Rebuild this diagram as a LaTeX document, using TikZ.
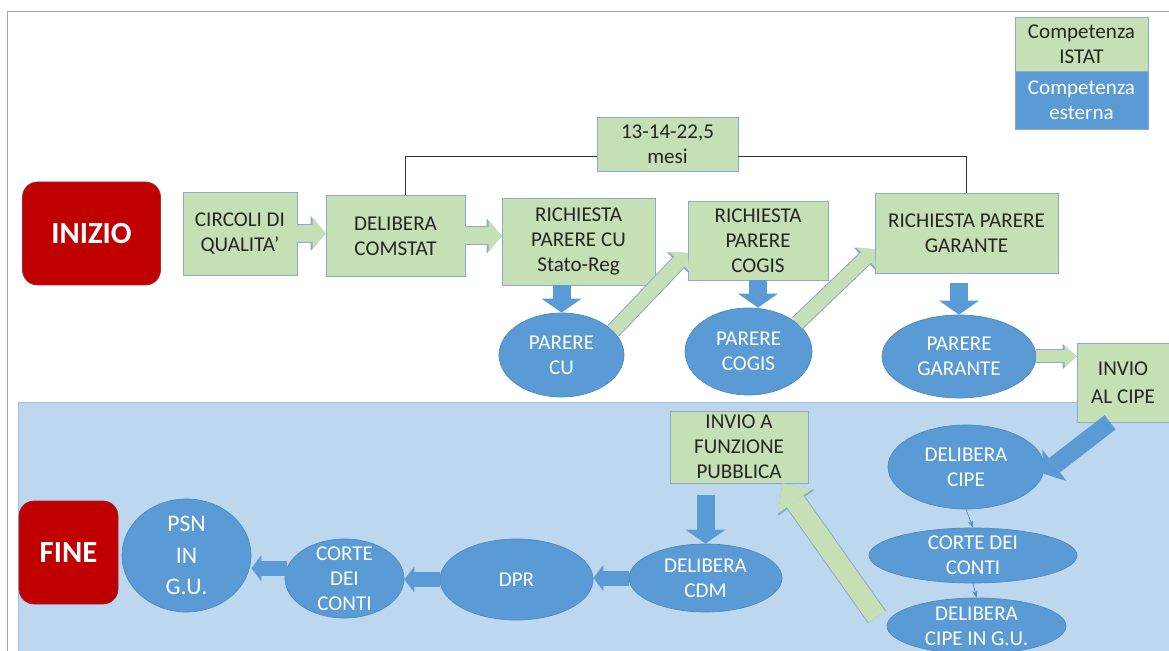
\documentclass[tikz,border=0pt]{standalone}
\usepackage{fontspec}
\setmainfont{Carlito}
\usetikzlibrary{arrows.meta}
\usetikzlibrary{shapes.geometric}

\definecolor{gfill}{HTML}{C5E0B4}
\definecolor{boxline}{HTML}{8EAACB}
\definecolor{bfill}{HTML}{5B9BD5}
\definecolor{oline}{HTML}{4F89C0}
\definecolor{rfill}{HTML}{C00000}
\definecolor{rline}{HTML}{9E2A35}
\definecolor{band}{HTML}{BDD7EE}
\definecolor{bandline}{HTML}{9DC3E6}
\definecolor{framegray}{HTML}{A6A6A6}

\tikzset{
  txt/.style={font=\fontsize{12}{14.2}\selectfont},
  greenbox/.style={txt, draw=boxline, fill=gfill, align=center, inner sep=0pt, text=black!85},
  blueoval/.style={txt, ellipse, draw=oline, fill=bfill, align=center, inner sep=-6pt, text=white},
  startend/.style={rounded corners=0.3cm, draw=rline, fill=rfill, text=white, font=\fontsize{17.5}{20}\selectfont\bfseries},
  blockarrow/.style n args={3}{line width=#1, -{Triangle[width=#2, length=#3, line width=0pt]}},
  garrow/.style n args={3}{gfill, blockarrow={#1}{#2}{#3},
    preaction={draw=boxline, line width=#1+0.04cm, -{Triangle[width=#2+0.06cm, length=#3+0.04cm, line width=0pt]}}},
  barrow/.style={bfill, blockarrow={0.36cm}{0.8cm}{0.28cm}},
  thinarrow/.style={oline, thin, -{Stealth[length=4pt, width=3pt]}},
  bracket/.style={black!80, line width=0.8pt}
}

\begin{document}
\begin{tikzpicture}[x=0.02cm, y=-0.02cm]
  \def\px{0.02cm}
  \useasboundingbox (0,0) rectangle (1169,651);
  \clip (0,0) rectangle (1169,651);

  \draw[framegray] (7,11) rectangle (1190,670);
  \draw[draw=bandline, fill=band] (18,402) rectangle (1190,670);

  % legend
  \node[greenbox, minimum width=133*\px, minimum height=54*\px] (istat) at (1081.5,44) {Competenza\\ISTAT};
  \node[greenbox, fill=bfill, text=white, minimum width=133*\px, minimum height=58*\px, anchor=north] (esterna) at (istat.south) {Competenza\\esterna};

  % top row
  \node[startend, minimum width=138*\px, minimum height=103*\px] (inizio) at (91.5,233.5) {INIZIO};
  \node[greenbox, minimum width=114*\px, minimum height=83*\px] (circoli) at (240,233.5) {CIRCOLI DI\\QUALITA'};
  \node[greenbox, minimum width=139*\px, minimum height=81*\px] (comstat) at (395.5,236) {DELIBERA\\COMSTAT};
  \node[greenbox, minimum width=153*\px, minimum height=87*\px] (richcu) at (578.5,241.5) {RICHIESTA\\PARERE CU\\Stato-Reg};
  \node[greenbox, minimum width=141*\px, minimum height=54*\px] (mesi) at (667.5,144) {13-14-22,5\\mesi};
  \node[greenbox, minimum width=140*\px, minimum height=79*\px] (richcogis) at (758,240.5) {RICHIESTA\\PARERE\\COGIS};
  \node[greenbox, minimum width=183*\px, minimum height=80*\px] (richgar) at (966.5,233) {RICHIESTA PARERE\\GARANTE};

  \node[blueoval, minimum width=125*\px, minimum height=84*\px] (parcu) at (561.5,355) {PARERE\\CU};
  \node[blueoval, minimum width=127*\px, minimum height=87*\px] (parcogis) at (748.5,351.5) {PARERE\\COGIS};
  \node[blueoval, minimum width=154*\px, minimum height=83*\px] (pargar) at (959,356.5) {PARERE\\GARANTE};
  \node[greenbox, minimum width=92*\px, minimum height=79*\px, font=\fontsize{12}{16}\selectfont] (invcipe) at (1123,382.5) {INVIO\\AL CIPE};

  % bottom part
  \node[blueoval, minimum width=156*\px, minimum height=84*\px] (delcipe) at (966,467) {DELIBERA\\CIPE};
  \node[blueoval, minimum width=208*\px, minimum height=55*\px] (corter) at (973,555.5) {CORTE DEI\\CONTI};
  \node[blueoval, minimum width=179*\px, minimum height=56*\px] (delgu) at (976.5,626) {DELIBERA\\CIPE IN G.U.};
  \node[greenbox, minimum width=138*\px, minimum height=72*\px] (funz) at (739,447) {INVIO A\\FUNZIONE\\PUBBLICA};
  \node[blueoval, minimum width=153*\px, minimum height=68*\px] (cdm) at (705.5,578) {DELIBERA\\CDM};
  \node[blueoval, minimum width=153*\px, minimum height=81*\px] (dpr) at (516.5,579.5) {DPR};
  \node[blueoval, minimum width=119*\px, minimum height=79*\px] (cortel) at (344.5,578.5) {CORTE\\DEI\\CONTI};
  \node[blueoval, minimum width=129*\px, minimum height=113*\px, font=\fontsize{13.5}{18}\selectfont] (psn) at (186.5,555.5) {PSN\\IN\\G.U.};
  \node[startend, minimum width=99*\px, minimum height=103*\px] (fine) at (68.5,552.5) {FINE};

  % time bracket
  \draw[bracket] ([xshift=10*\px]comstat.north) |- (mesi.190);
  \draw[bracket] (mesi.350) -| (richgar.north);

  % arrows
  \draw[garrow={0.34cm}{0.64cm}{0.26cm}] (circoli.east) -- (circoli.east -| comstat.west);
  \draw[garrow={0.34cm}{0.64cm}{0.26cm}] (comstat.east) -- (comstat.east -| richcu.west);
  \draw[barrow] (parcu.north |- richcu.south) -- (parcu.north);
  \draw[garrow={0.28cm}{0.56cm}{0.24cm}] (parcu.25) -- (richcogis.190);
  \draw[barrow] (richcogis.south) -- (richcogis.south |- parcogis.north);
  \draw[garrow={0.28cm}{0.56cm}{0.24cm}] (parcogis.30) -- (richgar.190);
  \draw[barrow, shorten <=0.2cm] (pargar.north |- richgar.south) -- (pargar.north);
  \draw[garrow={0.24cm}{0.44cm}{0.24cm}] (pargar.east) -- (pargar.east -| invcipe.west);
  \draw[barrow] (invcipe.252) -- (delcipe.355);
  \draw[thinarrow] (delcipe.south) -- (corter.north);
  \draw[thinarrow] (corter.south) -- (delgu.north);

  \coordinate (gstart) at (877,617);
  \draw[garrow={0.4cm}{0.84cm}{0.44cm}] (gstart) -- (funz.320);
  \draw[barrow, shorten <=0.24cm] (funz.south -| cdm.north) -- (cdm.north);
  \draw[barrow, blockarrow={0.3cm}{0.52cm}{0.2cm}] (cdm.west) -- (cdm.west -| dpr.east);
  \draw[barrow, blockarrow={0.3cm}{0.52cm}{0.2cm}] (dpr.west) -- (dpr.west -| cortel.east);
  \draw[barrow, blockarrow={0.3cm}{0.52cm}{0.2cm}] (cortel.170) -- (cortel.170 -| psn.east);
\end{tikzpicture}
\end{document}
